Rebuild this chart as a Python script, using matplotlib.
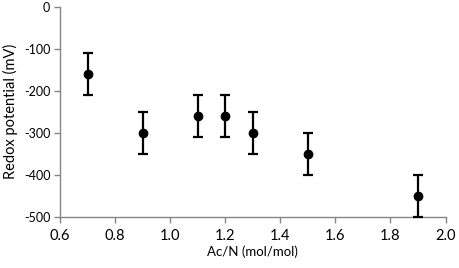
import matplotlib
matplotlib.use("Agg")
import matplotlib.pyplot as plt

ratio = [0.7, 0.9, 1.1, 1.2, 1.3, 1.5, 1.9]
redox = [-160, -300, -260, -260, -300, -350, -450]
err = [50, 50, 50, 50, 50, 50, 50]
xticks = [0.6, 0.8, 1.0, 1.2, 1.4, 1.6, 1.8, 2.0]
yticks = [0, -100, -200, -300, -400, -500]

plt.rcParams['font.family'] = ['Lato', 'DejaVu Sans']
fig = plt.figure(figsize=(4.59, 2.68), dpi=100)
ax = fig.add_axes([0.1307, 0.192, 0.9706 - 0.1307, 0.974 - 0.192])
ax.errorbar(ratio, redox, yerr=err, fmt='o', color='black', markersize=6,
            elinewidth=1.6, capsize=3.6, capthick=1.6, clip_on=False, zorder=3)
ax.set_xlim(0.6, 2.0)
ax.set_ylim(-500, 0)
ax.set_xticks(xticks)
ax.set_xticklabels([f"{v:.1f}" for v in xticks])
ax.set_yticks(yticks)
ax.set_yticklabels([str(v) for v in yticks])
for s in ['top', 'right']:
    ax.spines[s].set_visible(False)
for s in ['left', 'bottom']:
    ax.spines[s].set_color('#868686')
    ax.spines[s].set_linewidth(1.0)
ax.tick_params(axis='both', colors='#868686', length=4, width=1.0, labelcolor='black')
ax.tick_params(axis='x', labelsize=10.5, pad=5)
ax.tick_params(axis='y', labelsize=9, pad=3)
ax.set_xlabel('Ac/N (mol/mol)', fontsize=9.5, labelpad=2)
ax.set_ylabel('Redox potential (mV)', fontsize=10.5, labelpad=4)
fig.savefig('out.png', dpi=100)
